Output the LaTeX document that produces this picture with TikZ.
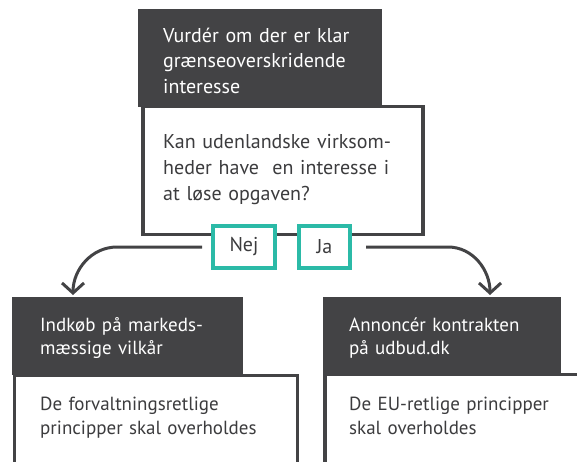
\documentclass[tikz,border=0pt]{standalone}
\usepackage{fontspec}
\setmainfont{PT Sans}
\usetikzlibrary{arrows.meta,positioning}
\definecolor{darkgrey}{HTML}{434345}
\definecolor{textgrey}{HTML}{3C3C3E}
\definecolor{answerteal}{HTML}{2BBAA7}
\tikzset{
  headbox/.style={fill=darkgrey, draw=none, anchor=north west, inner sep=0pt, outer sep=0pt},
  bodybox/.style={fill=white, draw=darkgrey, line width=3.5pt, anchor=north west, inner sep=0pt, outer sep=0pt},
  headtext/.style={anchor=base west, inner sep=0pt, text width=#1, align=left, text=white,
    font=\fontsize{20}{25.5}\selectfont},
  bodytext/.style={anchor=base west, inner sep=0pt, text width=#1, align=left, text=textgrey,
    font=\fontsize{20}{26}\selectfont},
  answer/.style={draw=answerteal, fill=white, line width=3.6pt, inner sep=0pt, outer sep=0pt,
    minimum height=42pt, text=textgrey, font=\fontsize{20}{24}\selectfont},
  branch/.style={draw=darkgrey, line width=3pt, -{Straight Barb[length=10pt,width=22pt]}}
}
\begin{document}
\begin{tikzpicture}[x=1pt,y=-1pt]
  \useasboundingbox (0,0) rectangle (577,461);
  % question
  \node[bodybox, minimum width=280pt, minimum height=128pt] (qbody) at (143,106.5) {};
  \node[headbox, minimum width=244pt, minimum height=98pt] (qhead) at (138,9) {};
  \node[headtext=240pt] (qheadtxt) at (163,42) {Vurdér om der er klar\\grænseoverskridende\\interesse};
  \node[bodytext=250pt] (qbodytxt) at (163,148) {Kan udenlandske virksom-\\heder have\ \ en interesse i\\at løse opgaven?};
  % answers
  \node[answer, minimum width=62pt] (nej) at (244,247) {Nej};
  \node[answer, minimum width=51pt] (ja) at (324.5,247) {Ja};
  % left outcome
  \node[bodybox, minimum width=283pt, minimum height=110pt] (lbody) at (14.5,375.5) {};
  \node[headbox, minimum width=231pt, minimum height=78pt] (lhead) at (12,297) {};
  \node[headtext=220pt, font=\fontsize{19}{23}\selectfont] (lheadtxt) at (40,331) {Indkøb på markeds-\\mæssige vilkår};
  \node[bodytext=260pt, font=\fontsize{19}{24}\selectfont] (lbodytxt) at (40,410) {De forvaltningsretlige\\principper skal overholdes};
  % right outcome
  \node[bodybox, minimum width=290pt, minimum height=110pt] (rbody) at (325,374.5) {};
  \node[headbox, minimum width=238pt, minimum height=76pt] (rhead) at (323,297) {};
  \node[headtext=230pt, font=\fontsize{19}{23}\selectfont] (rheadtxt) at (349,331) {Annoncér kontrakten\\på udbud.dk};
  \node[bodytext=230pt, font=\fontsize{19}{24}\selectfont] (rbodytxt) at (349,410) {De EU-retlige principper\\skal overholdes};
  % branches
  \coordinate (nejfrom) at ([xshift=-11pt]nej.west);
  \coordinate (nejto) at (73,295);
  \coordinate (jafrom) at ([xshift=16pt]ja.east);
  \coordinate (jato) at (490,295);
  \draw[branch] (nejfrom) -- ++(-85,0) to[out=180,in=90] (nejto);
  \draw[branch] (jafrom) -- ++(82,0) to[out=0,in=90] (jato);
\end{tikzpicture}
\end{document}
